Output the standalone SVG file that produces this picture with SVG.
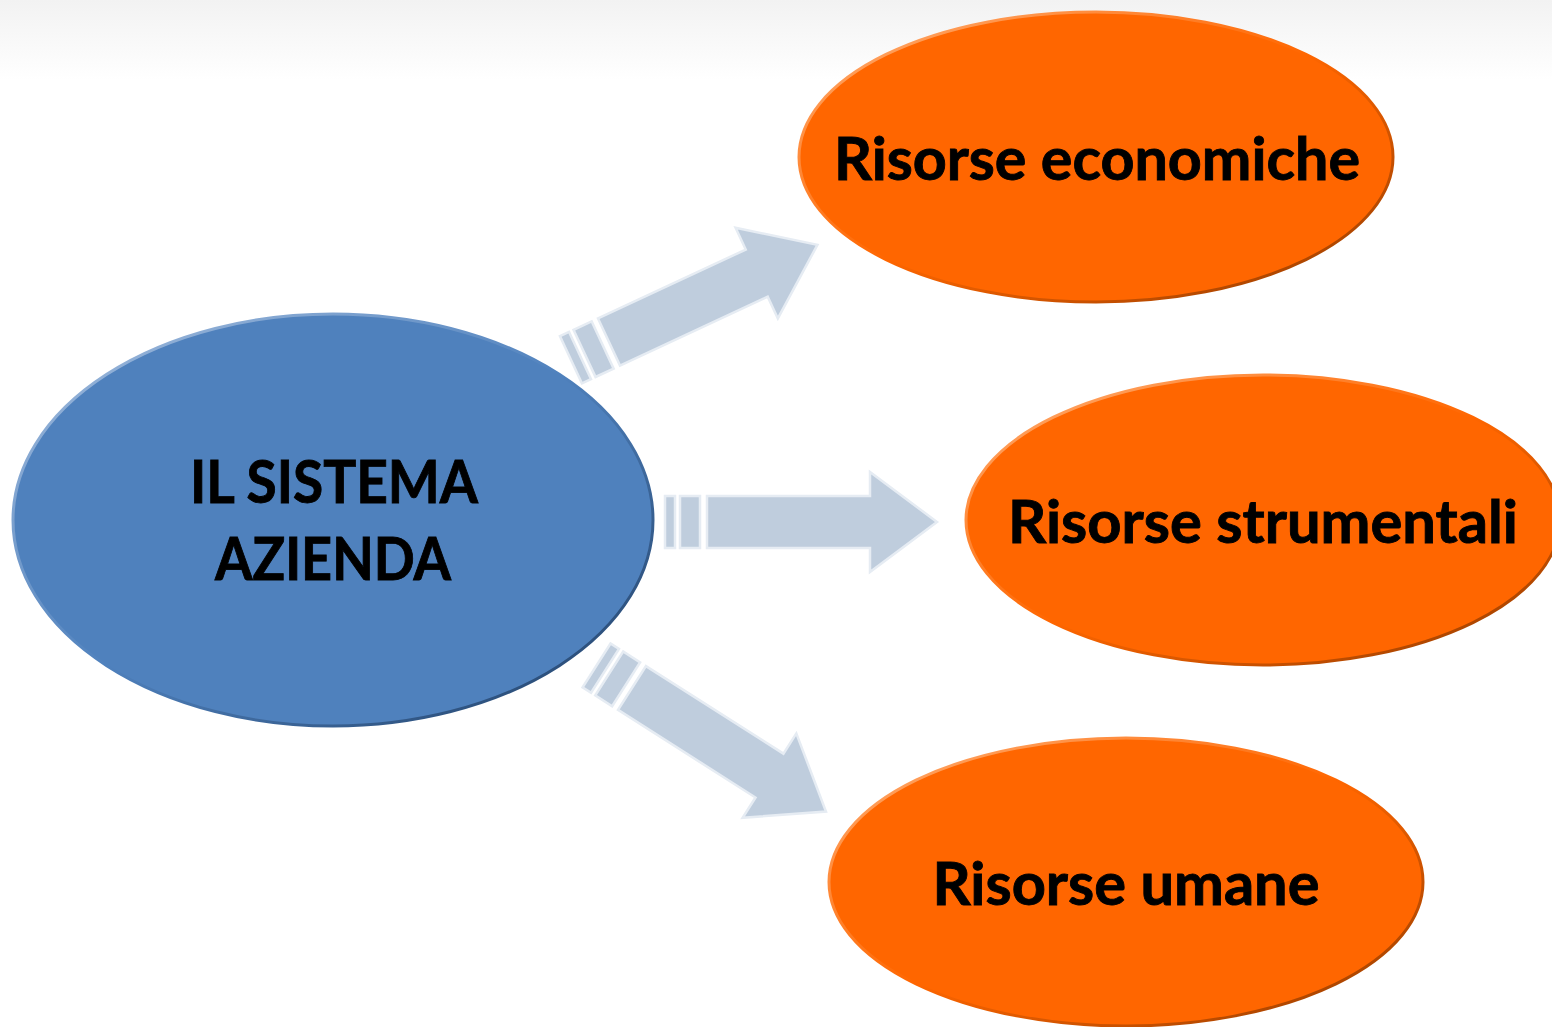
<svg xmlns="http://www.w3.org/2000/svg" width="1552" height="1027" viewBox="0 0 1552 1027">
  <defs>
    <linearGradient id="topband" x1="0" y1="0" x2="0" y2="1">
      <stop offset="0" stop-color="#F2F2F2"/>
      <stop offset="1" stop-color="#FFFFFF"/>
    </linearGradient>
    <linearGradient id="blueEdge" x1="0" y1="0" x2="1" y2="1">
      <stop offset="0" stop-color="#A9C1E0"/>
      <stop offset="0.5" stop-color="#4F81BD"/>
      <stop offset="1" stop-color="#1F3D63"/>
    </linearGradient>
    <linearGradient id="orangeEdge" x1="0" y1="0" x2="1" y2="1">
      <stop offset="0" stop-color="#FFB27A"/>
      <stop offset="0.5" stop-color="#FF6600"/>
      <stop offset="1" stop-color="#8F3A00"/>
    </linearGradient>
    <g id="arrow">
      <path class="arr" d="M0,-26 L163,-26 L163,-50 L230,0 L163,50 L163,26 L0,26 Z"/>
      <rect class="arr" x="-27" y="-26" width="20" height="52"/>
      <rect class="arr" x="-42" y="-26" width="10" height="52"/>
    </g>
  </defs>
  <style>
    .arr { fill: #BFCDDD; stroke: #E6ECF3; stroke-width: 2.5; stroke-linejoin: miter; }
    .blue { fill: #4F81BD; stroke: url(#blueEdge); stroke-width: 3; }
    .orange { fill: #FF6600; stroke: url(#orangeEdge); stroke-width: 3; }
    .lbl { font-family: Lato, "Liberation Sans", Arial, sans-serif; font-weight: 700; font-size: 60px; fill: #000000; stroke: #000000; stroke-width: 0.9; text-anchor: middle; }
  </style>
  <rect x="0" y="0" width="1552" height="1027" fill="#FFFFFF"/>
  <rect x="0" y="0" width="1552" height="80" fill="url(#topband)"/>

  <g id="connectors">
    <use href="#arrow" transform="translate(609,342) rotate(-25)"/>
    <use href="#arrow" transform="translate(707,522)"/>
    <use href="#arrow" transform="translate(632,688) rotate(32.5)"/>
  </g>

  <g id="node-sistema">
    <ellipse class="blue" cx="333" cy="520" rx="320" ry="206"/>
    <text class="lbl" x="334" y="503" textLength="288" lengthAdjust="spacingAndGlyphs">IL SISTEMA</text>
    <text class="lbl" x="333" y="580" textLength="236" lengthAdjust="spacingAndGlyphs">AZIENDA</text>
  </g>

  <g id="node-economiche">
    <ellipse class="orange" cx="1096" cy="157" rx="297" ry="145"/>
    <text class="lbl" x="1097" y="180" textLength="526" lengthAdjust="spacingAndGlyphs">Risorse economiche</text>
  </g>

  <g id="node-strumentali">
    <ellipse class="orange" cx="1263" cy="520" rx="297" ry="145"/>
    <text class="lbl" x="1263" y="543" textLength="510" lengthAdjust="spacingAndGlyphs">Risorse strumentali</text>
  </g>

  <g id="node-umane">
    <ellipse class="orange" cx="1126" cy="882" rx="297" ry="144"/>
    <text class="lbl" x="1126" y="905" textLength="387" lengthAdjust="spacingAndGlyphs">Risorse umane</text>
  </g>
</svg>
